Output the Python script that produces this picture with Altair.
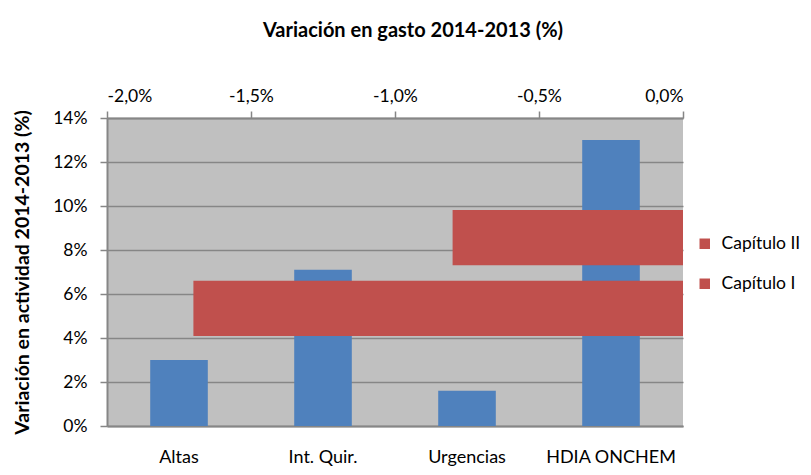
import altair as alt
import pandas as pd

# Data
categories = ["Altas", "Int. Quir.", "Urgencias", "HDIA ONCHEM"]
actividad = [3.0, 7.1, 1.6, 13.0]          # % variación en actividad

capitulos = ["Capítulo II", "Capítulo I"]
gasto = [-0.8, -1.7]                        # % variación en gasto

y_ticks = [0, 2, 4, 6, 8, 10, 12, 14]
x_ticks = [-2.0, -1.5, -1.0, -0.5, 0.0]

FONT = "Lato"
GRID = "#868686"
BLUE = "#4F81BD"
RED = "#C0504D"

df_act = pd.DataFrame({"categoria": categories, "actividad": actividad})
df_gas = pd.DataFrame({"capitulo": capitulos, "gasto": gasto})

blue = alt.Chart(df_act).mark_bar(color=BLUE).encode(
    x=alt.X(
        "categoria:N",
        sort=categories,
        scale=alt.Scale(paddingInner=0.6, paddingOuter=0.3),
        axis=alt.Axis(
            orient="bottom", title=None, labelAngle=0, ticks=False,
            labelPadding=22, domainColor=GRID, domainWidth=2,
            labelFontSize=18, labelColor="black", labelFont=FONT,
        ),
    ),
    y=alt.Y(
        "actividad:Q",
        scale=alt.Scale(domain=[0, 14], nice=False),
        axis=alt.Axis(
            values=y_ticks,
            labelExpr="datum.value + '%'",
            title="Variación en actividad  2014-2013 (%)",
            titleFont=FONT, titleFontSize=19.5, titleFontWeight="bold",
            titleColor="black", titlePadding=20,
            labelFont=FONT, labelFontSize=17.5, labelColor="black",
            labelPadding=13, tickSize=7, tickColor=GRID, tickWidth=1.5,
            domainColor=GRID, domainWidth=2,
            grid=True, gridColor=GRID, gridWidth=1.5,
        ),
    ),
)

red = alt.Chart(df_gas).mark_bar().encode(
    x=alt.X(
        "gasto:Q",
        scale=alt.Scale(domain=[-2, 0], nice=False),
        axis=alt.Axis(
            orient="top", values=x_ticks, grid=False, title=None,
            labelExpr="replace(replace(format(datum.value, '.1f'), '.', ','), '\u2212', '-') + '%'",
            labelFont=FONT, labelFontSize=17.5, labelColor="black",
            labelPadding=6, tickSize=7, tickColor=GRID, tickWidth=1.5,
            domainColor=GRID, domainWidth=2,
        ),
    ),
    y=alt.Y(
        "capitulo:N",
        sort=capitulos,
        scale=alt.Scale(range=[92, 218], paddingInner=0.222, paddingOuter=0),
        axis=None,
    ),
    color=alt.Color(
        "capitulo:N",
        scale=alt.Scale(domain=capitulos, range=[RED, RED]),
        legend=alt.Legend(
            title=None, orient="none", legendX=589, legendY=117,
            symbolType="square", symbolSize=110, symbolStrokeWidth=0,
            labelFont=FONT, labelFontSize=17.5, labelColor="black",
            rowPadding=21, labelOffset=8, labelLimit=200,
        ),
    ),
)

chart = (
    alt.layer(blue, red)
    .resolve_scale(x="independent", y="independent", color="independent")
    .properties(
        width=576,
        height=308,
        autosize=alt.AutoSizeParams(type="none"),
        padding={"left": 99, "top": 110, "right": 120, "bottom": 41},
        title=alt.Title(
            "Variación en gasto 2014-2013 (%)",
            font=FONT, fontSize=20, fontWeight="bold", color="black",
            anchor="middle", offset=46, dx=18,
        ),
    )
    .configure_view(fill="#C0C0C0", stroke=None)
)

chart.save("out.html", embed_options={"renderer": "svg", "actions": False})
